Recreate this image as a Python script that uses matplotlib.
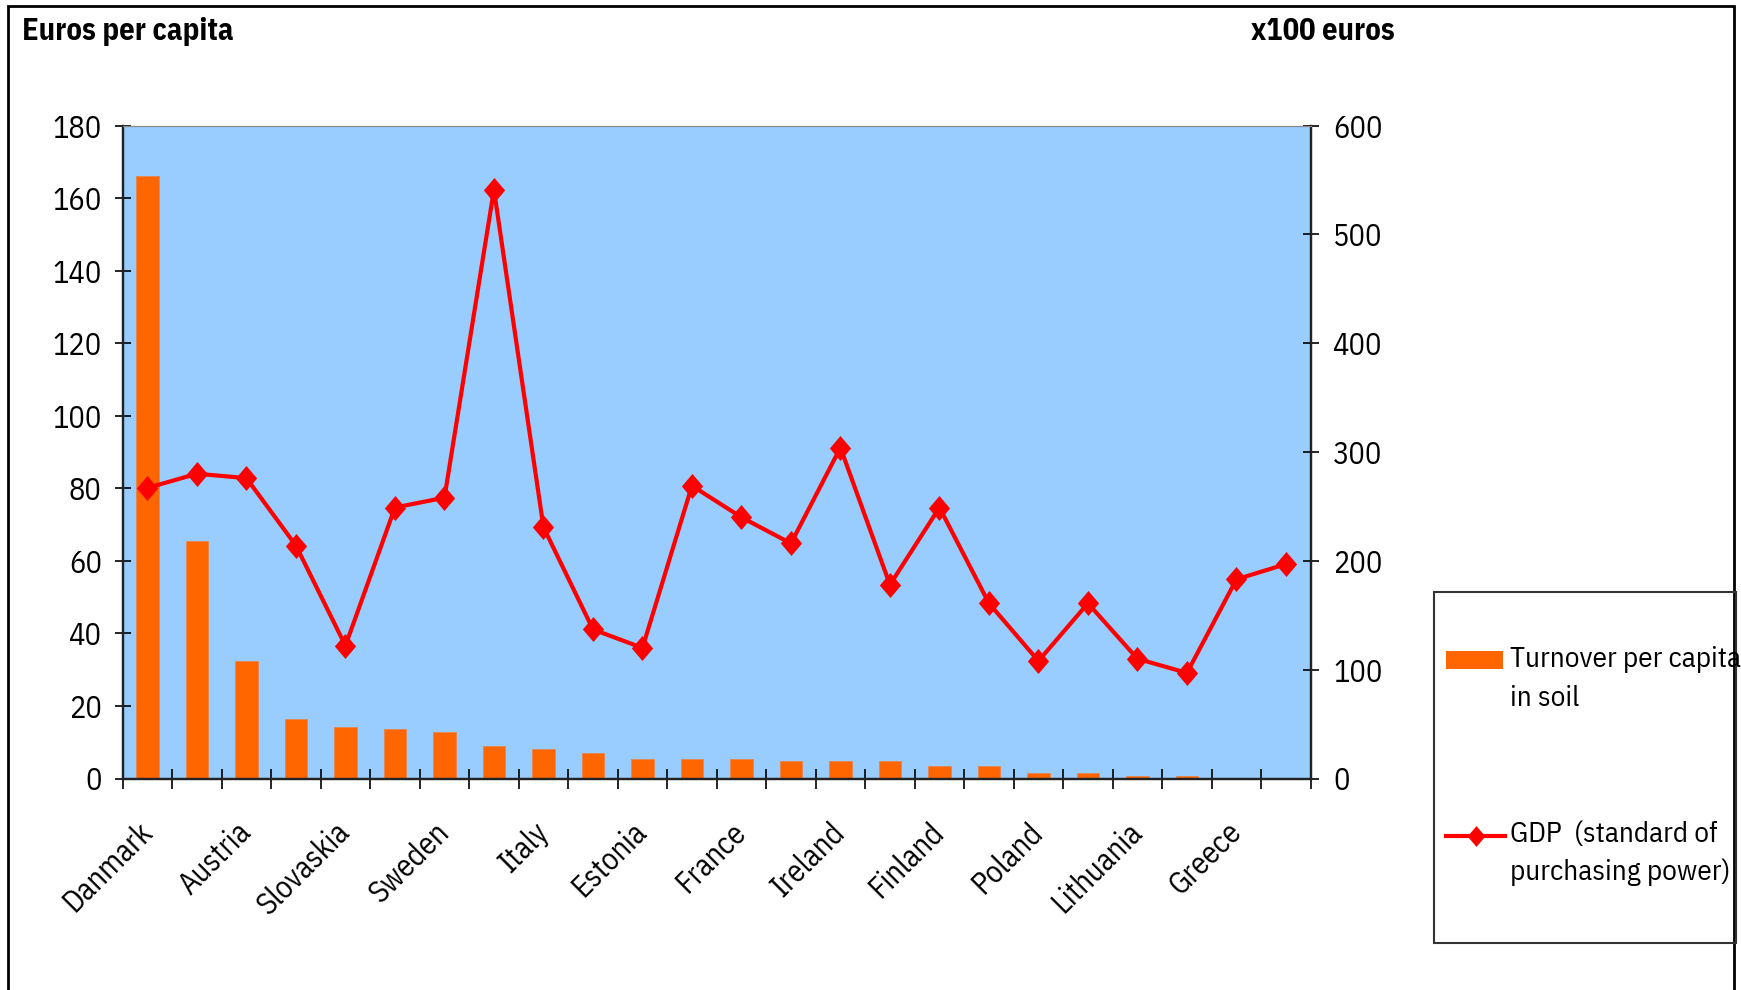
import numpy as np
import matplotlib
matplotlib.use("Agg")
import matplotlib.pyplot as plt
from matplotlib.patches import Rectangle
from matplotlib.lines import Line2D

plt.rcParams['font.family'] = ['IBM Plex Sans Condensed', 'Liberation Sans', 'DejaVu Sans']

# only every other country is labelled on the axis
countries = ['Danmark', '', 'Austria', '', 'Slovaskia', '', 'Sweden', '', 'Italy', '',
             'Estonia', '', 'France', '', 'Ireland', '', 'Finland', '', 'Poland', '',
             'Lithuania', '', 'Greece', '']

# turnover per capita in soil (euros, left axis)
turnover = [166, 65.5, 32.5, 16.3, 14.2, 13.6, 12.9, 8.9, 8.1, 6.9, 5.5, 5.5,
            5.5, 4.8, 4.8, 4.8, 3.5, 3.5, 1.5, 1.5, 0.75, 0.75, 0, 0]

# GDP in purchasing power standard (x100 euros, right axis)
gdp = [267, 280, 276, 214, 122, 249, 258, 541, 231, 137, 120, 269,
       240, 216, 304, 178, 249, 161, 108, 161, 110, 97, 183, 197]

left_ticks = [0, 20, 40, 60, 80, 100, 120, 140, 160, 180]
right_ticks = [0, 100, 200, 300, 400, 500, 600]

legend_lines = [['Turnover per capita', 'in soil'],
                ['GDP  (standard of', 'purchasing power)']]

W, H = 1741, 990
fig = plt.figure(figsize=(W / 100, H / 100), dpi=100)
fig.patch.set_facecolor('white')

ax = fig.add_axes([122.7 / W, 1 - 778.5 / H, 1188 / W, 653 / H])
ax.set_facecolor('#99CCFF')
x = np.arange(len(countries))
ax.bar(x, turnover, width=0.45, color='#FF6600', edgecolor='#E8864A', linewidth=0.6, zorder=2)
ax.set_xlim(-0.5, len(countries) - 0.5)
ax.set_ylim(0, 180)
ax.set_yticks(left_ticks)
ax.set_xticks(x)
ax.set_xticklabels(countries, rotation=45, ha='right', va='center', rotation_mode='anchor')
ax.set_xticks(np.arange(-0.5, len(countries), 1), minor=True)
ax.tick_params(axis='x', which='major', length=0, pad=35, labelsize=22)
ax.tick_params(axis='x', which='minor', direction='inout', length=14, width=1.2)
ax.tick_params(axis='y', direction='inout', length=12, width=1.2, pad=9, labelsize=22)
for s in ['left', 'bottom', 'right']:
    ax.spines[s].set_linewidth(1.6)
    ax.spines[s].set_color('#222222')
ax.spines['top'].set_color('#888888')

ax2 = ax.twinx()
ax2.patch.set_visible(False)
diamond = [(0, 1), (0.85, 0), (0, -1), (-0.85, 0), (0, 1)]
ax2.plot(x, gdp, color='#FF0000', linewidth=3, marker=diamond, markersize=18,
         markeredgewidth=0, zorder=3)
ax2.set_ylim(0, 600)
ax2.set_yticks(right_ticks)
ax2.tick_params(axis='y', direction='inout', length=12, width=1.2, pad=10, labelsize=22)
for s in ['left', 'bottom', 'right']:
    ax2.spines[s].set_linewidth(1.6)
    ax2.spines[s].set_color('#222222')
ax2.spines['top'].set_color('#888888')

fig.text(22 / W, 1 - 31 / H, 'Euros per capita', fontsize=22, fontweight='bold',
         ha='left', va='center')
fig.text(1323 / W, 1 - 31 / H, 'x100 euros', fontsize=22, fontweight='bold',
         ha='center', va='center')

# outer frame of the chart
fig.patches.append(Rectangle((8 / W, -0.05), (1734 - 8) / W, 1 - 6 / H + 0.05,
                             transform=fig.transFigure, fill=False, edgecolor='black',
                             linewidth=2, clip_on=False))

# legend drawn by hand to match the boxed layout
fig.patches.append(Rectangle((1434 / W, 1 - 943 / H), 302 / W, 351 / H,
                             transform=fig.transFigure, fill=False, edgecolor='#333333',
                             linewidth=1.5))
fig.patches.append(Rectangle((1446 / W, 1 - 669 / H), 57 / W, 18 / H,
                             transform=fig.transFigure, facecolor='#FF6600', edgecolor='none'))
fig.lines.append(Line2D([1446 / W, 1505 / W], [1 - 836 / H, 1 - 836 / H],
                        transform=fig.transFigure, color='#FF0000', linewidth=3))
fig.lines.append(Line2D([1476 / W], [1 - 836 / H], transform=fig.transFigure,
                        color='#FF0000', marker=diamond, markersize=15, markeredgewidth=0))
tx = 1510 / W
for lines, (y1, y2) in zip(legend_lines, [(667, 706), (842, 880)]):
    fig.text(tx, 1 - y1 / H, lines[0], fontsize=21, va='baseline')
    fig.text(tx, 1 - y2 / H, lines[1], fontsize=21, va='baseline')

fig.savefig('out.png', dpi=100)
